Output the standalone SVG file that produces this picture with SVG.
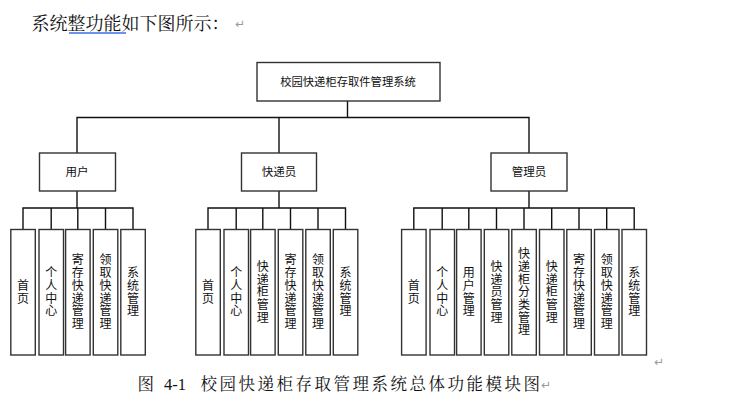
<svg xmlns="http://www.w3.org/2000/svg" width="739" height="404" viewBox="0 0 739 404">
<style>
.box{fill:#fff;stroke:#333;stroke-width:1.4}
.ln{stroke:#111;stroke-width:1.4;fill:none}
.t{font-family:"Noto Sans CJK SC","Liberation Sans",sans-serif;fill:#111}
.vt{font-family:"Noto Sans CJK SC","Liberation Sans",sans-serif;font-size:12px;fill:#111;writing-mode:vertical-rl;text-anchor:middle;letter-spacing:0.7px}
.doc{font-family:"Noto Serif CJK SC","Noto Sans CJK SC","Liberation Serif",serif;fill:#111}
.mark{font-family:"DejaVu Sans",sans-serif;fill:#999;font-size:12px}
</style>
<rect width="739" height="404" fill="#fff"/>
<text class="doc" x="31.5" y="29.5" font-size="18">系统整功能如下图所示：</text>
<text class="mark" x="235" y="28">↵</text>
<line x1="69" y1="33" x2="126" y2="33" stroke="#3a6ee8" stroke-width="1.3"/>
<g id="connectors">
<path class="ln" d="M347.5 101V117.5M77 153V117.5H529V153M279 117.5V153"/>
<path class="ln" d="M77 191V208M23 229.5V208H133V229.5M51.2 208V229.5M77.8 208V229.5M105.5 208V229.5"/>
<path class="ln" d="M279 191V208M208 229.5V208H345.5V229.5M236.2 208V229.5M262.8 208V229.5M290.5 208V229.5M318 208V229.5"/>
<path class="ln" d="M529 191V208M413.8 229.5V208H634.2V229.5M442.2 208V229.5M468.8 208V229.5M496.5 208V229.5M524 208V229.5M551.7 208V229.5M579 208V229.5M606.7 208V229.5"/>
</g>
<g id="root"><rect class="box" x="257" y="62.5" width="183" height="38.5"/><text class="t" x="348" y="86" font-size="11.3" text-anchor="middle">校园快递柜存取件管理系统</text></g>
<g id="user"><rect class="box" x="39.5" y="153" width="76" height="38"/><text class="t" x="77" y="175.5" font-size="11.5" text-anchor="middle">用户</text></g>
<g id="courier"><rect class="box" x="241.5" y="153" width="75" height="38"/><text class="t" x="279" y="175.5" font-size="11.5" text-anchor="middle">快递员</text></g>
<g id="admin"><rect class="box" x="491" y="153" width="76" height="38"/><text class="t" x="529" y="175.5" font-size="11.5" text-anchor="middle">管理员</text></g>

<g id="u1"><rect class="box" x="10.8" y="229.5" width="24.5" height="125.5"/><text class="vt" x="23" y="292">首页</text></g>
<g id="u2"><rect class="box" x="39" y="229.5" width="24.5" height="125.5"/><text class="vt" x="51.2" y="292">个人中心</text></g>
<g id="u3"><rect class="box" x="65.6" y="229.5" width="24.5" height="125.5"/><text class="vt" x="77.8" y="292">寄存快递管理</text></g>
<g id="u4"><rect class="box" x="93.3" y="229.5" width="24.5" height="125.5"/><text class="vt" x="105.5" y="292">领取快递管理</text></g>
<g id="u5"><rect class="box" x="120.8" y="229.5" width="24.5" height="125.5"/><text class="vt" x="133" y="292">系统管理</text></g>

<g id="c1"><rect class="box" x="195.8" y="229.5" width="24.5" height="125.5"/><text class="vt" x="208" y="292">首页</text></g>
<g id="c2"><rect class="box" x="224" y="229.5" width="24.5" height="125.5"/><text class="vt" x="236.2" y="292">个人中心</text></g>
<g id="c3"><rect class="box" x="250.6" y="229.5" width="24.5" height="125.5"/><text class="vt" x="262.8" y="292">快递柜管理</text></g>
<g id="c4"><rect class="box" x="278.3" y="229.5" width="24.5" height="125.5"/><text class="vt" x="290.5" y="292">寄存快递管理</text></g>
<g id="c5"><rect class="box" x="305.8" y="229.5" width="24.5" height="125.5"/><text class="vt" x="318" y="292">领取快递管理</text></g>
<g id="c6"><rect class="box" x="333.3" y="229.5" width="24.5" height="125.5"/><text class="vt" x="345.5" y="292">系统管理</text></g>

<g id="a1"><rect class="box" x="401.6" y="229.5" width="24.5" height="125.5"/><text class="vt" x="413.8" y="292">首页</text></g>
<g id="a2"><rect class="box" x="430" y="229.5" width="24.5" height="125.5"/><text class="vt" x="442.2" y="292">个人中心</text></g>
<g id="a3"><rect class="box" x="456.6" y="229.5" width="24.5" height="125.5"/><text class="vt" x="468.8" y="292">用户管理</text></g>
<g id="a4"><rect class="box" x="484.3" y="229.5" width="24.5" height="125.5"/><text class="vt" x="496.5" y="292">快递员管理</text></g>
<g id="a5"><rect class="box" x="511.8" y="229.5" width="24.5" height="125.5"/><text class="vt" x="524" y="292">快递柜分类管理</text></g>
<g id="a6"><rect class="box" x="539.5" y="229.5" width="24.5" height="125.5"/><text class="vt" x="551.7" y="292">快递柜管理</text></g>
<g id="a7"><rect class="box" x="566.8" y="229.5" width="24.5" height="125.5"/><text class="vt" x="579" y="292">寄存快递管理</text></g>
<g id="a8"><rect class="box" x="594.5" y="229.5" width="24.5" height="125.5"/><text class="vt" x="606.7" y="292">领取快递管理</text></g>
<g id="a9"><rect class="box" x="622" y="229.5" width="24.5" height="125.5"/><text class="vt" x="634.2" y="292">系统管理</text></g>

<text class="mark" x="654" y="366" font-size="11">↵</text>
<text class="doc" y="389.5" font-size="16.5"><tspan x="137.5">图</tspan><tspan x="164" font-family="Liberation Serif">4-1</tspan><tspan x="200.5" letter-spacing="2.5">校园快递柜存取管理系统总体功能模块图</tspan></text>
<text class="mark" x="541" y="389">↵</text>
</svg>
